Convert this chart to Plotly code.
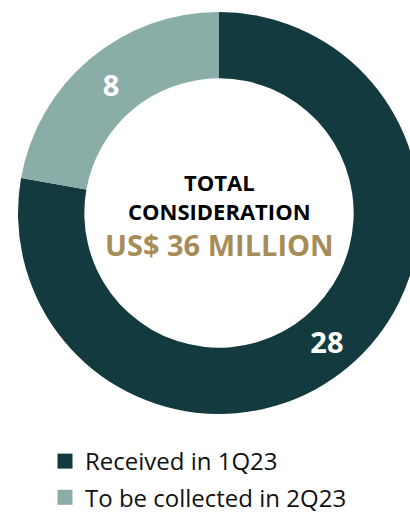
import plotly.graph_objects as go

labels = ["Received in 1Q23", "To be collected in 2Q23"]
values = [28, 8]
colors = ["#133B3F", "#8AADA8"]
center_lines = ["TOTAL", "CONSIDERATION"]
center_amount = "US$ 36 MILLION"

W, H = 422, 545
cx, cy, r = 219, 213, 201

fig = go.Figure()
fig.add_trace(go.Pie(
    labels=labels, values=values, sort=False, direction="clockwise", rotation=0,
    hole=0.67, marker=dict(colors=colors, line=dict(width=0)),
    textinfo="value", textposition="inside",
    insidetextfont=dict(family="Open Sans", size=29, color="white", weight="bold"),
    domain=dict(x=[(cx - r) / W, (cx + r) / W], y=[1 - (cy + r) / H, 1 - (cy - r) / H]),
    showlegend=False, hoverinfo="label+value",
))
for lab, col in zip(labels, colors):
    fig.add_trace(go.Scatter(x=[None], y=[None], mode="markers", name=lab,
                             legendgroup=lab,
                             marker=dict(symbol="square", size=15, color=col)))

fig.add_annotation(x=cx / W, y=1 - 196 / H, xref="paper", yref="paper", showarrow=False,
                   yanchor="middle", text="<b>" + "<br>".join(center_lines) + "</b>",
                   font=dict(family="Open Sans", size=22, color="black"))
fig.add_annotation(x=cx / W, y=1 - 244 / H, xref="paper", yref="paper", showarrow=False,
                   yanchor="middle", text="<b>" + center_amount + "</b>",
                   font=dict(family="Open Sans", size=29, color="#A68D57"))

fig.update_layout(
    width=W, height=H, autosize=False,
    margin=dict(l=0, r=0, t=0, b=0),
    paper_bgcolor="white", plot_bgcolor="white",
    xaxis=dict(visible=False), yaxis=dict(visible=False),
    legend=dict(x=45 / W, y=1 - 439 / H, xanchor="left", yanchor="top",
                font=dict(family="Open Sans", size=24, color="#111111"),
                tracegroupgap=2, bgcolor="rgba(0,0,0,0)"),
)
fig.write_html("out.html", config={"displayModeBar": False},
               post_script="document.body.style.margin='0';document.body.style.overflow='hidden';")
